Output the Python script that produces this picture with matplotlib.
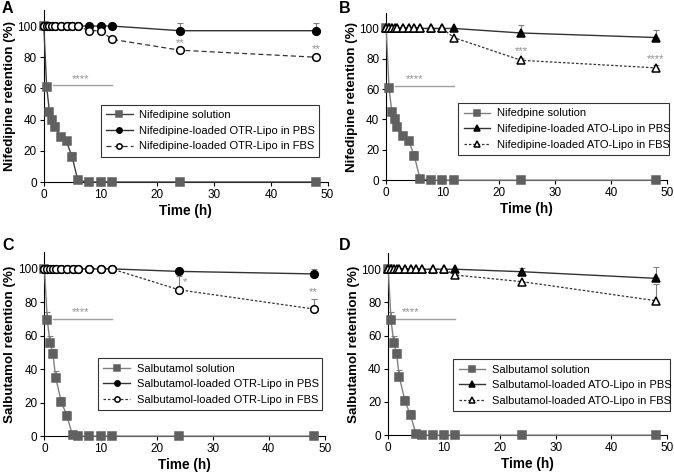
import matplotlib
matplotlib.use("Agg")
import matplotlib.pyplot as plt
import numpy as np

plt.rcParams['font.family'] = ['Liberation Sans', 'DejaVu Sans']

t = [0, 0.5, 1, 1.5, 2, 3, 4, 5, 6, 8, 10, 12, 24, 48]

# Nifedipine (A, B)
nif_sol = [100, 61, 45, 40, 35, 29, 26, 16, 1, 0, 0, 0, 0, 0]
nif_sol_err = [0, 0, 0, 0, 0, 0, 0, 3, 0, 0, 0, 0, 0, 0]
nif_otr_pbs = [100, 100, 100, 100, 100, 100, 100, 100, 100, 100, 100, 100, 97, 97]
nif_otr_pbs_err = [0, 0, 0, 0, 0, 0, 0, 0, 0, 0, 0, 0, 5, 5]
nif_otr_fbs = [100, 100, 100, 100, 100, 100, 100, 100, 100, 97, 97, 91.5, 84.5, 80]
nif_otr_fbs_err = [0] * 14
nif_ato_pbs = [100, 100, 100, 100, 100, 100, 100, 100, 100, 100, 100, 100, 97, 94]
nif_ato_pbs_err = [0, 0, 0, 0, 0, 0, 0, 0, 0, 0, 0, 0, 5, 5]
nif_ato_fbs = [100, 100, 100, 100, 100, 100, 100, 100, 100, 100, 100, 94, 79, 74]
nif_ato_fbs_err = [0, 0, 0, 0, 0, 0, 0, 0, 0, 0, 0, 0, 1.5, 2]

# Salbutamol (C, D)
sal_sol = [100, 69.5, 55.5, 49, 35, 20.5, 12, 0.5, 0, 0, 0, 0, 0, 0]
sal_sol_err = [0, 5, 4.5, 3, 4, 3, 3, 0, 0, 0, 0, 0, 0, 0]
sal_otr_pbs = [100, 100, 100, 100, 100, 100, 100, 100, 100, 100, 100, 100, 98.5, 97]
sal_otr_pbs_err = [0, 0, 0, 0, 0, 0, 0, 0, 0, 0, 0, 0, 0, 3]
sal_otr_fbs = [100, 100, 100, 100, 100, 100, 100, 100, 100, 100, 100, 100, 87.5, 76]
sal_otr_fbs_err = [0, 0, 0, 0, 0, 0, 0, 0, 0, 0, 0, 0, 8, 6]
sal_ato_pbs = [100, 100, 100, 100, 100, 100, 100, 100, 100, 100, 100, 100, 98.5, 94.5]
sal_ato_pbs_err = [0, 0, 0, 0, 0, 0, 0, 0, 0, 0, 0, 0, 2, 7]
sal_ato_fbs = [100, 100, 100, 100, 100, 100, 100, 100, 100, 100, 100, 96.5, 92.5, 81]
sal_ato_fbs_err = [0, 0, 0, 0, 0, 0, 0, 0, 0, 0, 0, 0, 0, 10]

GRAY = '#606060'


def series(ax, y, err, label, color, lcolor, marker, mfc, ls, ms, lw=1.0):
    ax.errorbar(t, y, yerr=[np.zeros(len(err)), err], fmt='none', ecolor='#808080',
                elinewidth=0.8, capsize=2.2, capthick=0.8, zorder=2, clip_on=False)
    ax.plot(t, y, linestyle=ls, color=lcolor, lw=lw, marker=marker, ms=ms,
            mfc=mfc, mec=color, mew=1.1, label=label, zorder=3, clip_on=False)


def panel(ax, letter, pos, ylabel, sol, sol_err, pbs, pbs_err, fbs, fbs_err,
          labels, mk, fbs_ls, lines_y, line_x, star_x, stars, leg_box, sol_lc):
    ms = 5.5 if mk == 'o' else 5.8
    series(ax, sol, sol_err, labels[0], GRAY, sol_lc, 's', GRAY, '-', 5.5)
    series(ax, pbs, pbs_err, labels[1], 'black', '#333333', mk, 'black', '-', ms)
    series(ax, fbs, fbs_err, labels[2], 'black', '#333333', mk, 'white', fbs_ls, ms, lw=0.9)
    ax.plot(line_x, [lines_y, lines_y], color='#a0a0a0', lw=1.0)
    ax.text(star_x, lines_y + 1, '****', color='#909090', fontsize=8, ha='center', va='bottom')
    for (x, y, s, ha) in stars:
        ax.text(x, y, s, color='#909090', fontsize=8, ha=ha, va='bottom')
    ax.set_xlim(0, 50)
    ax.set_ylim(0, 110)
    ax.set_xticks([0, 10, 20, 30, 40, 50])
    ax.set_yticks([0, 20, 40, 60, 80, 100])
    ax.spines['top'].set_visible(False)
    ax.spines['right'].set_visible(False)
    ax.tick_params(labelsize=8.5, length=3, direction='out', pad=2)
    ax.set_xlabel('Time (h)', fontsize=9.8, fontweight='bold', labelpad=2)
    ax.set_ylabel(ylabel, fontsize=9.6, fontweight='bold', labelpad=1)
    leg = ax.legend(loc='lower left', bbox_to_anchor=leg_box, mode='expand',
                    fontsize=8, markerscale=0.7, frameon=True, fancybox=False,
                    edgecolor='black', borderaxespad=0, handlelength=2.4,
                    handletextpad=0.6, labelspacing=0.5, borderpad=0.5)
    leg.get_frame().set_linewidth(0.8)
    fig.text(pos[0], pos[1], letter, fontsize=11.5, fontweight='bold', ha='left', va='top')


fig = plt.figure(figsize=(6.74, 4.74), dpi=100)
axA = fig.add_axes([0.065, 0.616, 0.421, 0.362])
axB = fig.add_axes([0.573, 0.620, 0.417, 0.352])
axC = fig.add_axes([0.066, 0.080, 0.416, 0.388])
axD = fig.add_axes([0.576, 0.082, 0.414, 0.385])

panel(axA, 'A', (0.003, 0.998), 'Nifedipine retention (%)', nif_sol, nif_sol_err,
      nif_otr_pbs, nif_otr_pbs_err, nif_otr_fbs, nif_otr_fbs_err,
      ['Nifedipine solution', 'Nifedipine-loaded OTR-Lipo in PBS', 'Nifedipine-loaded OTR-Lipo in FBS'],
      'o', (0, (4, 2.5)), 62, [1.7, 12], 6.5,
      [(24, 86, '**', 'center'), (48, 82, '**', 'center')],
      (0.20, 0.146, 0.77, 0.32), '#404040')
panel(axB, 'B', (0.503, 0.998), 'Nifedipine retention (%)', nif_sol, nif_sol_err,
      nif_ato_pbs, nif_ato_pbs_err, nif_ato_fbs, nif_ato_fbs_err,
      ['Nifedpine solution', 'Nifedipine-loaded ATO-Lipo in PBS', 'Nifedipine-loaded ATO-Lipo in FBS'],
      '^', (0, (2, 1.5)), 62, [1.5, 12], 5.0,
      [(24, 81.5, '***', 'center'), (48, 76.5, '****', 'center')],
      (0.256, 0.15, 0.75, 0.32), '#808080')
panel(axC, 'C', (0.003, 0.497), 'Salbutamol retention (%)', sal_sol, sal_sol_err,
      sal_otr_pbs, sal_otr_pbs_err, sal_otr_fbs, sal_otr_fbs_err,
      ['Salbutamol solution', 'Salbutamol-loaded OTR-Lipo in PBS', 'Salbutamol-loaded OTR-Lipo in FBS'],
      'o', (0, (2, 1.5)), 70, [1.5, 12], 6.5,
      [(24.6, 89, '*', 'left'), (48, 83, '**', 'center')],
      (0.19, 0.14, 0.80, 0.27), '#808080')
panel(axD, 'D', (0.503, 0.497), 'Salbutamol retention (%)', sal_sol, sal_sol_err,
      sal_ato_pbs, sal_ato_pbs_err, sal_ato_fbs, sal_ato_fbs_err,
      ['Salbutamol solution', 'Salbutamol-loaded ATO-Lipo in PBS', 'Salbutamol-loaded ATO-Lipo in FBS'],
      '^', (0, (2, 1.5)), 70, [1.0, 12], 4.0,
      [],
      (0.233, 0.13, 0.777, 0.28), '#808080')

fig.savefig('out.png', dpi=100)
